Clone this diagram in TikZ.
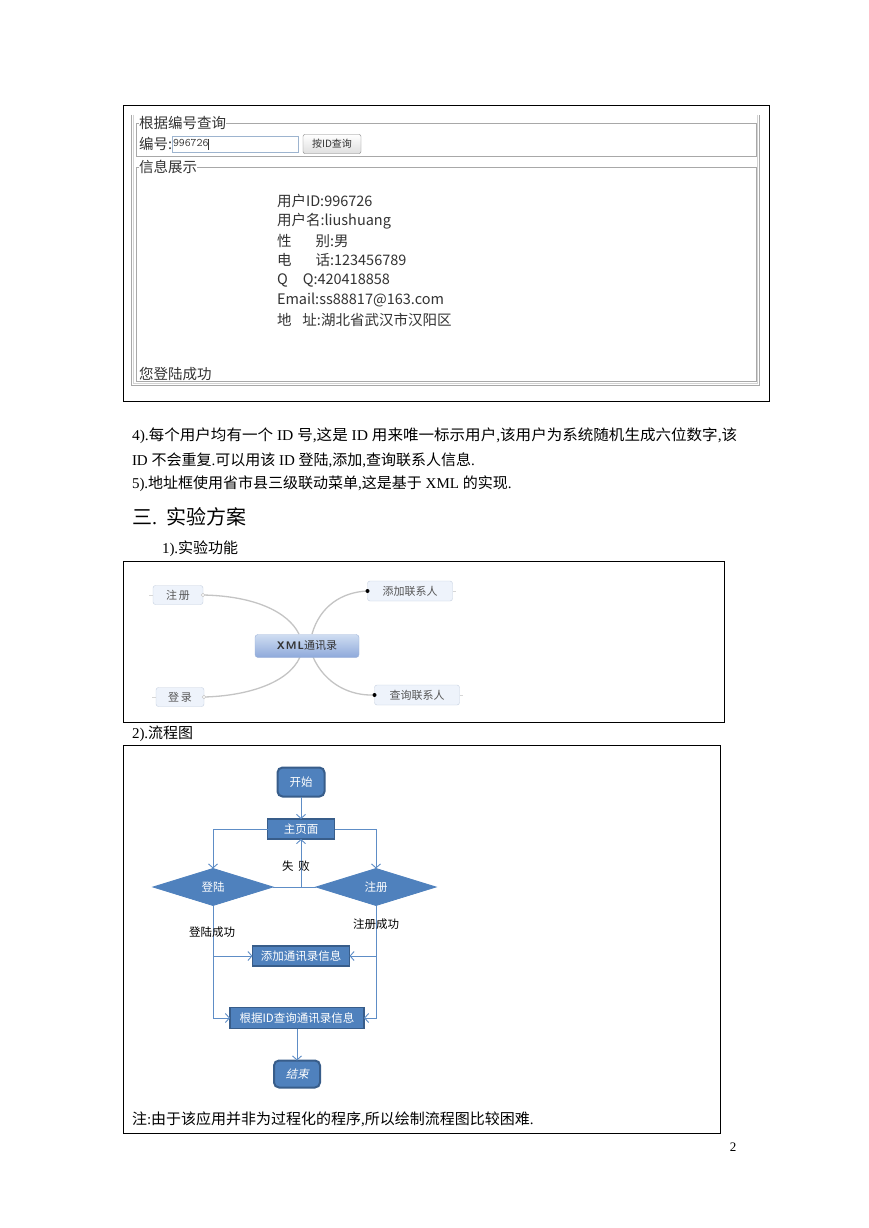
\documentclass[tikz,border=0pt]{standalone}
\usepackage{fontspec}
\setmainfont{Liberation Serif}
\newfontfamily\cjk{Noto Sans CJK SC}
\newfontfamily\cjksl{Noto Sans CJK SC}[FakeSlant=0.25]
\usetikzlibrary{shapes.geometric,arrows.meta}
\newcommand\lat[1]{{\rmfamily #1}}
\definecolor{fcfill}{HTML}{4F81BD}
\definecolor{fcdraw}{HTML}{385D8A}
\definecolor{fcline}{HTML}{5E8DC6}
\definecolor{mmfill}{HTML}{EEF3FB}
\definecolor{mmdraw}{HTML}{C6D0E0}
\definecolor{mmline}{HTML}{C4C4C4}
\definecolor{mmtext}{HTML}{555555}
\definecolor{xmltop}{HTML}{CFDDF2}
\definecolor{xmlbot}{HTML}{8EA9DA}
\definecolor{xmldraw}{HTML}{9DB3D8}
\definecolor{uigray}{HTML}{A8A8A8}
\definecolor{uitext}{HTML}{333333}
\definecolor{inpdraw}{HTML}{9DB4CF}
\tikzset{
  body/.style={anchor=west, font={\cjk\fontsize{15}{18}\selectfont}},
  uitxt/.style={anchor=west, text=uitext, font={\cjk\fontsize{14.5}{17}\selectfont}},
  frame/.style={draw=black, line width=0.8pt},
  uiline/.style={draw=uigray, line width=0.9pt},
  mmnode/.style={draw=mmdraw, fill=mmfill, rounded corners=2.5pt, text=mmtext, font={\cjk\fontsize{11}{12}\selectfont}},
  mmcurve/.style={draw=mmline, line width=1.3pt},
  mmstub/.style={draw=mmline!70, line width=0.6pt},
  fcbox/.style={draw=fcdraw, fill=fcfill, line width=1.5pt, text=white, font={\cjk\fontsize{11.5}{12}\selectfont}},
  fcterm/.style={fcbox, rounded corners=5pt, line width=2pt},
  fcdia/.style={fcbox, diamond, line width=0.8pt, draw=fcfill},
  fcarrow/.style={draw=fcline, line width=0.9pt, -{Straight Barb[length=4pt,width=9pt]}},
  fcl/.style={draw=fcline, line width=0.9pt},
  fclabel/.style={text=black, font={\cjk\fontsize{11.5}{12}\selectfont}},
}
\begin{document}
\begin{tikzpicture}[x=1pt,y=-1pt, every node/.style={inner sep=0pt, outer sep=0pt}]
\useasboundingbox (0,0) rectangle (869,1228);
\fill[white] (0,0) rectangle (869,1228);

% ---------- screenshot frame ----------
\draw[frame] (123,105) rectangle (769,401);
\draw[uiline] (131,115) -- (131,385) -- (759,385) -- (759,115);
\draw[draw=uigray!50, line width=0.6pt] (133,115) -- (133,383) -- (757,383) -- (757,115);

\node[uitxt] (lg1) at (139,123) {根据编号查询};
\draw[uiline] (lg1.east) -- (756,123) -- (756,156) -- (136,156) -- (136,123) -- (lg1.west);
\node[uitxt] (idlab) at (139,144) {编号:};
\node[draw=inpdraw, minimum width=126pt, minimum height=16pt, anchor=west] (inp) at (172,144) {};
\node[anchor=west, font=\fontsize{11.5}{12}\selectfont\ttfamily, text=uitext] (inptxt) at (173,144) {996726\rule[-3pt]{0.6pt}{11pt}};
\node[draw=gray, rounded corners=2pt, top color=white, bottom color=gray!25, minimum width=58pt, minimum height=19pt, font={\cjk\fontsize{10}{11}\selectfont}, text=uitext] (btn) at (332,144) {按ID查询};

\node[uitxt] (lg2) at (139,167) {信息展示};
\draw[uiline] (lg2.east) -- (756,167) -- (756,381) -- (136,381) -- (136,167) -- (lg2.west);

\node[uitxt] (i1) at (277,201) {用户ID:996726};
\node[uitxt] (i2) at (277,221) {用户名:liushuang};
\node[uitxt] (i3) at (277,241) {性\hspace{24pt}别:男};
\node[uitxt] (i4) at (277,260) {电\hspace{24pt}话:123456789};
\node[uitxt] (i5) at (277,280) {Q\hspace{15pt}Q:420418858};
\node[uitxt] (i6) at (277,300) {Email:ss88817@163.com};
\node[uitxt] (i7) at (277,320) {地\hspace{11pt}址:湖北省武汉市汉阳区};
\node[uitxt] (ok) at (139,374) {您登陆成功};

% ---------- body text ----------
\node[body] (t1) at (132,436) {\scalebox{1.036}[1]{\lat{4).}每个用户均有一个\lat{ ID }号\lat{,}这是\lat{ ID }用来唯一标示用户\lat{,}该用户为系统随机生成六位数字\lat{,}该}};
\node[body] (t2) at (132,460) {\lat{ID }不会重复\lat{.}可以用该\lat{ ID }登陆\lat{,}添加\lat{,}查询联系人信息\lat{.}};
\node[body] (t3) at (132,484) {\lat{5).}地址框使用省市县三级联动菜单\lat{,}这是基于\lat{ XML }的实现\lat{.}};
\node[body, font={\cjk\fontsize{20}{24}\selectfont}] (h3) at (132,517) {三\lat{.}\hspace{9pt}实验方案};
\node[body] (s1) at (162,549) {\lat{1).}实验功能};

% ---------- mind map ----------
\draw[frame] (123,561) rectangle (724,722);
\node[mmnode, minimum width=50pt, minimum height=19pt] (reg) at (178,595) {注\hspace{2pt}册};
\node[mmnode, minimum width=85pt, minimum height=20pt] (add) at (410,591) {添加联系人};
\node[mmnode, minimum width=48pt, minimum height=19pt] (log) at (180,697) {登\hspace{2pt}录};
\node[mmnode, minimum width=85pt, minimum height=20pt] (qry) at (417,695) {查询联系人};
\draw[mmstub] (reg.west) -- ++(-4,0);
\draw[mmstub] (log.west) -- ++(-4,0);
\draw[mmstub] (add.east) -- ++(3,0);
\draw[mmstub] (qry.east) -- ++(3,0);
\coordinate (xn1) at (299,634);
\coordinate (xn2) at (312,634);
\coordinate (xs1) at (300,657);
\coordinate (xs2) at (313,657);
\draw[mmcurve] (reg.east) .. controls (255,596) and (288,612) .. (xn1);
\draw[mmcurve] (xn2) .. controls (320,606) and (342,592) .. (add.west);
\draw[mmcurve] (xs1) .. controls (288,684) and (245,696) .. (log.east);
\draw[mmcurve] (xs2) .. controls (325,684) and (350,696) .. (qry.west);
\node[draw=xmldraw, rounded corners=3pt, top color=xmltop, bottom color=xmlbot, minimum width=104pt, minimum height=23pt, font={\fontsize{11}{12}\selectfont}, text=uitext] (xml) at (307,646) {{\sffamily\bfseries X\hspace{1pt}M\hspace{1pt}L}{\cjk 通讯录}};
\draw[mmline, fill=white, line width=0.6pt] (reg.east) circle (1.8pt);
\draw[mmline, fill=white, line width=0.6pt] (log.east) circle (1.8pt);
\fill[black] (add.west) circle (2pt);
\fill[black] (qry.west) circle (2pt);

% ---------- flow chart ----------
\node[body] (s2) at (132,734) {\lat{2).}流程图};
\draw[frame] (123,745) rectangle (720,1133);
\node[fcterm, minimum width=47pt, minimum height=29pt] (start) at (301,782) {开始};
\node[fcbox, minimum width=67pt, minimum height=20pt] (main) at (301,829) {主页面};
\node[fcdia, minimum width=120pt, minimum height=37pt] (dl) at (213,887) {登陆};
\node[fcdia, minimum width=120pt, minimum height=37pt] (dr) at (376,887) {注册};
\node[fcbox, minimum width=97pt, minimum height=20pt] (addi) at (301,956) {添加通讯录信息};
\node[fcbox, minimum width=134pt, minimum height=21pt] (qi) at (297,1018) {根据ID查询通讯录信息};
\node[fcterm, minimum width=46pt, minimum height=27pt, font={\cjksl\fontsize{11.5}{12}\selectfont}] (end) at (297,1074) {结束};

\draw[fcarrow] (start) -- (main);
\draw[fcarrow] (main.west) -| (dl.north);
\draw[fcarrow] (main.east) -| (dr.north);
\draw[fcl] (dl.east) -- (dr.west);
\coordinate (fail) at (main.south |- dl.east);
\draw[fcarrow] (fail) -- (main.south);
\draw[fcarrow] (dl.south) |- (qi.west);
\draw[fcarrow] (dl.south |- addi.west) -- (addi.west);
\draw[fcarrow] (dr.south) |- (qi.east);
\draw[fcarrow] (dr.south |- addi.east) -- (addi.east);
\draw[fcarrow] (qi.south) -- (end.north);

\node[fclabel] (lfail) at (296,866) {失\hspace{5pt}败};
\node[fclabel] (lok1) at (212,932) {登陆成功};
\node[fclabel] (lok2) at (376,924) {注册成功};

\node[body] (note) at (132,1119) {注\lat{:}由于该应用并非为过程化的程序\lat{,}所以绘制流程图比较困难\lat{.}};
\node[font=\fontsize{13}{14}\selectfont] (pg) at (733,1147) {2};
\end{tikzpicture}
\end{document}
